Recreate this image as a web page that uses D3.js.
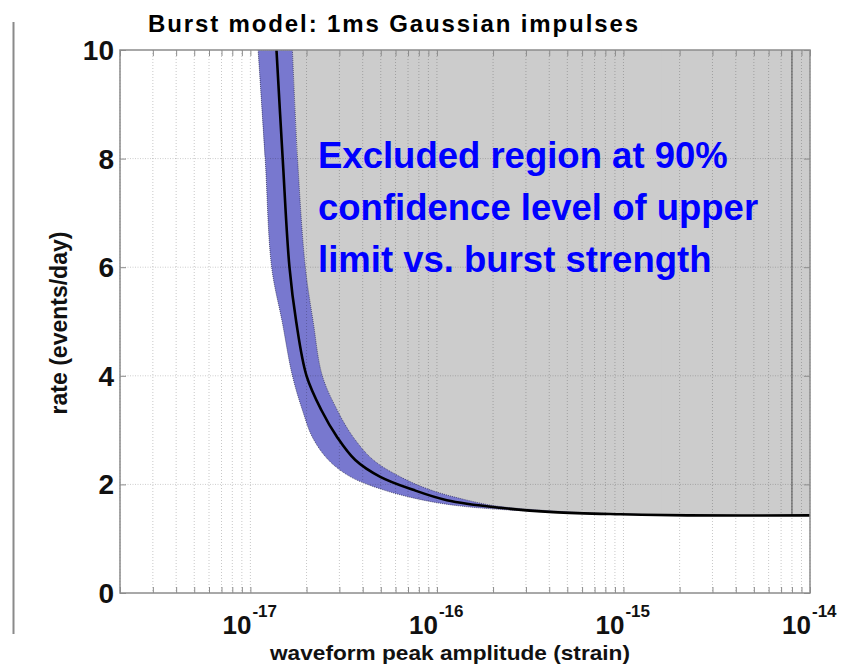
<!DOCTYPE html>
<html>
<head>
<meta charset="utf-8">
<script src="https://cdn.jsdelivr.net/npm/d3@7"></script>
<style>
  html, body { margin: 0; padding: 0; background: #fff; }
  svg { display: block; font-family: "Liberation Sans", Arial, Helvetica, sans-serif; }
</style>
</head>
<body>
<svg id="chart" width="856" height="666"></svg>
<script>
// ---- data ----
const titleText = "Burst model: 1ms Gaussian impulses";
const xLabelText = "waveform peak amplitude (strain)";
const yLabelText = "rate (events/day)";
const noteLines = ["Excluded region at 90%", "confidence level of upper", "limit vs. burst strength"];

const xDomain = [2e-18, 1e-14];
const yDomain = [0, 10];
const yTicks = [0, 2, 4, 6, 8, 10];
const xMajorExp = [-17, -16, -15, -14];

// central upper-limit curve
const centerAmp  = [1.38e-17, 1.49e-17, 1.62e-17, 1.76e-17, 2.0e-17, 2.40e-17, 2.92e-17, 3.65e-17, 4.97e-17, 7.46e-17, 1.13e-16, 2.18e-16, 4.2e-16, 9.6e-16, 2.2e-15, 1e-14];
const centerRate = [10,       8,        6,        5,        4,       3.37,     2.87,     2.45,     2.14,     1.90,     1.71,     1.57,     1.49,    1.45,    1.43,    1.43];

// uncertainty band (at given rates: lower and upper amplitude)
const bandRate = [10,       8,        6,        5,        4,        3.37,     2.87,     2.45,     2.14,     1.90,     1.71,     1.60,     1.52,     1.47,     1.44];
const bandLow  = [1.10e-17, 1.20e-17, 1.30e-17, 1.48e-17, 1.68e-17, 1.90e-17, 2.15e-17, 2.62e-17, 3.44e-17, 5.15e-17, 8.45e-17, 1.35e-16, 2.7e-16,  5.8e-16,  1.5e-15];
const bandHigh = [1.68e-17, 1.79e-17, 1.97e-17, 2.17e-17, 2.43e-17, 2.92e-17, 3.56e-17, 4.56e-17, 6.36e-17, 9.2e-17,  1.45e-16, 2.1e-16,  3.8e-16,  7.3e-16,  1.6e-15];

// vertical reference line
const vlineAmp = 8e-15;
const vlineRate = 1.43;

// ---- layout ----
const svg = d3.select("#chart");
const L = 120, T = 50, R = 810, B = 593;

const x = d3.scaleLog().domain(xDomain).range([L, R]);
const y = d3.scaleLinear().domain(yDomain).range([B, T]);

// slide edge line at far left
svg.append("line").attr("x1", 13.5).attr("x2", 13.5).attr("y1", 22).attr("y2", 634)
  .attr("stroke", "#8a8a8a").attr("stroke-width", 2);

svg.append("defs").append("clipPath").attr("id", "clip")
  .append("rect").attr("x", L).attr("y", T).attr("width", R - L).attr("height", B - T);

const plot = svg.append("g").attr("clip-path", "url(#clip)");

const band = bandRate.map((r, i) => ({ r, lo: bandLow[i], hi: bandHigh[i] }));
const curve = d3.curveCatmullRom.alpha(0.5);

// excluded (gray) region
plot.append("path")
  .datum(band)
  .attr("d", d3.area().curve(curve).y(d => y(d.r)).x0(d => x(d.hi)).x1(x(xDomain[1])))
  .attr("fill", "#cccccc");
plot.append("rect").attr("x", x(bandHigh[bandHigh.length - 1])).attr("y", T)
  .attr("width", R - x(bandHigh[bandHigh.length - 1])).attr("height", y(bandRate[bandRate.length - 1]) - T)
  .attr("fill", "#cccccc");

// grid
const minor = [];
for (let e = -18; e <= -15; e++) for (let k = 1; k <= 9; k++) {
  const v = k * Math.pow(10, e);
  if (v >= xDomain[0] * 0.999 && v <= xDomain[1] * 1.001) minor.push(v);
}
minor.push(1e-14);
const grid = svg.append("g");
grid.selectAll("line.vg").data(minor).join("line")
  .attr("x1", d => x(d)).attr("x2", d => x(d)).attr("y1", T).attr("y2", B)
  .attr("stroke", "#000").attr("stroke-opacity", 0.22).attr("stroke-width", 1)
  .attr("stroke-dasharray", "1,2");
grid.selectAll("line.hg").data(yTicks.filter(d => d > 0 && d < 10)).join("line")
  .attr("x1", L).attr("x2", R).attr("y1", d => y(d)).attr("y2", d => y(d))
  .attr("stroke", "#000").attr("stroke-opacity", 0.2).attr("stroke-width", 1)
  .attr("stroke-dasharray", "1,1.5");

// uncertainty band
plot.append("path")
  .datum(band)
  .attr("d", d3.area().curve(curve).y(d => y(d.r)).x0(d => x(d.lo)).x1(d => x(d.hi)))
  .attr("fill", "#7878cf")
  .attr("stroke", "#22224a").attr("stroke-opacity", 0.7).attr("stroke-width", 1).attr("stroke-dasharray", "1,1");

// vertical line
plot.append("line")
  .attr("x1", x(vlineAmp)).attr("x2", x(vlineAmp)).attr("y1", y(10)).attr("y2", y(vlineRate))
  .attr("stroke", "#7a7a7a").attr("stroke-width", 1.5);

// central curve
const center = centerAmp.map((a, i) => ({ a, r: centerRate[i] }));
plot.append("path")
  .datum(center)
  .attr("d", d3.line().curve(curve).x(d => x(d.a)).y(d => y(d.r)))
  .attr("fill", "none").attr("stroke", "#000").attr("stroke-width", 2.6);

// axes box
svg.append("rect").attr("x", L).attr("y", T).attr("width", R - L).attr("height", B - T)
  .attr("fill", "none").attr("stroke", "#8c8c8c").attr("stroke-width", 1.5);

// ticks (inward) via d3 axes
const tickStyle = g => {
  g.select(".domain").remove();
  g.selectAll(".tick line").attr("stroke", "#8c8c8c").attr("stroke-width", 1);
  g.selectAll(".tick text").remove();
};
svg.append("g").attr("transform", `translate(${L},0)`)
  .call(d3.axisLeft(y).tickValues(yTicks).tickSize(-6)).call(tickStyle);
svg.append("g").attr("transform", `translate(${R},0)`)
  .call(d3.axisRight(y).tickValues(yTicks).tickSize(-6)).call(tickStyle);
svg.append("g").attr("transform", `translate(0,${B})`)
  .call(d3.axisBottom(x).tickValues(minor).tickSize(-6)).call(tickStyle);
svg.append("g").attr("transform", `translate(0,${T})`)
  .call(d3.axisTop(x).tickValues(minor).tickSize(-6)).call(tickStyle);

// y tick labels
svg.append("g").selectAll("text").data(yTicks).join("text")
  .attr("x", 114).attr("y", d => y(d) + 10)
  .attr("text-anchor", "end")
  .attr("font-size", 28).attr("font-weight", "bold").attr("fill", "#111")
  .text(d => d);

// x tick labels: 10^e
const xl = svg.append("g").selectAll("g").data(xMajorExp).join("g");
xl.append("text")
  .attr("x", d => x(Math.pow(10, d)) + 1).attr("y", 634)
  .attr("text-anchor", "end")
  .attr("font-size", 26).attr("font-weight", "bold").attr("fill", "#111")
  .text("10");
xl.append("text")
  .attr("x", d => x(Math.pow(10, d)) + 2).attr("y", 617)
  .attr("font-size", 17).attr("font-weight", "bold").attr("fill", "#111")
  .text(d => "-" + Math.abs(d));

// axis labels
svg.append("text").attr("x", 450).attr("y", 660).attr("text-anchor", "middle")
  .attr("font-size", 21).attr("font-weight", "bold").attr("fill", "#111")
  .attr("textLength", 360).attr("lengthAdjust", "spacingAndGlyphs")
  .text(xLabelText);
svg.append("text").attr("transform", "translate(67,323) rotate(-90)").attr("text-anchor", "middle")
  .attr("font-size", 23).attr("font-weight", "bold").attr("fill", "#111")
  .text(yLabelText);

// title
svg.append("text").attr("x", 148).attr("y", 32)
  .attr("font-size", 24).attr("font-weight", "bold").attr("fill", "#000")
  .attr("textLength", 490).attr("lengthAdjust", "spacing")
  .text(titleText);

// annotation
svg.append("g").selectAll("text").data(noteLines).join("text")
  .attr("x", 318).attr("y", (d, i) => 168 + i * 52)
  .attr("font-size", 36.5).attr("font-weight", "bold").attr("fill", "#0000ff")
  .text(d => d);
</script>
</body>
</html>
